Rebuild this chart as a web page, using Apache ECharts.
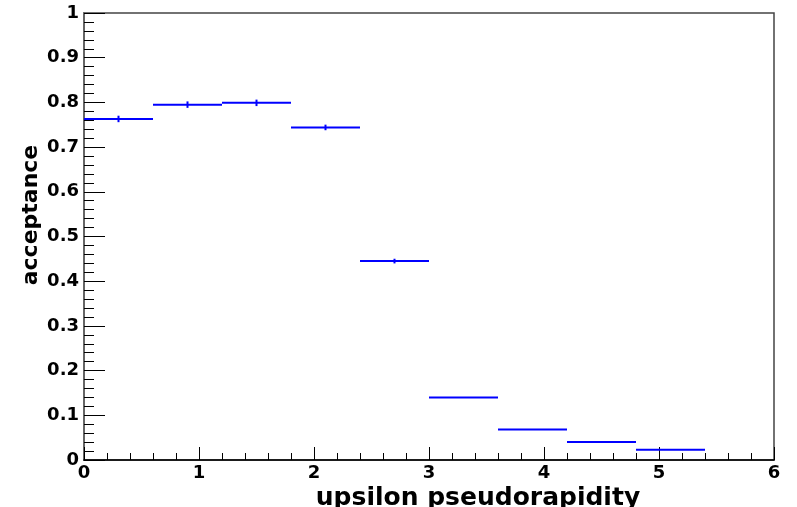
<!DOCTYPE html>
<html lang="en" style="height: 100%">
<head>
    <meta charset="utf-8">
    <title>acceptance vs upsilon pseudorapidity</title>
    <script src="https://cdn.jsdelivr.net/npm/echarts@6/dist/echarts.min.js"></script>
</head>
<body style="height: 100%; margin: 0; background: #fff">
<div id="main" style="width: 797px; height: 507px"></div>
<script type="text/javascript">
    // bin edges and acceptance values
    var binLow = [0, 0.6, 1.2, 1.8, 2.4, 3.0, 3.6, 4.2, 4.8];
    var binHigh = [0.6, 1.2, 1.8, 2.4, 3.0, 3.6, 4.2, 4.8, 5.4];
    var acceptance = [0.763, 0.795, 0.799, 0.744, 0.445, 0.140, 0.068, 0.040, 0.023];
    var acceptanceErr = [0.005, 0.005, 0.005, 0.004, 0.003, 0, 0, 0, 0];
    var xTicks = [0, 1, 2, 3, 4, 5, 6];
    var yTicks = [0, 0.1, 0.2, 0.3, 0.4, 0.5, 0.6, 0.7, 0.8, 0.9, 1];

    var FONT = 'DejaVu Sans';

    var data = [];
    for (var i = 0; i < acceptance.length; i++) {
        data.push([binLow[i], binHigh[i], acceptance[i], acceptanceErr[i]]);
    }

    var chart = echarts.init(document.getElementById('main'));
    var option = {
        animation: false,
        grid: {
            left: 84,
            right: 23,
            top: 13,
            bottom: 47,
            show: true,
            borderColor: '#444',
            borderWidth: 1.5
        },
        xAxis: {
            type: 'value',
            min: xTicks[0],
            max: xTicks[xTicks.length - 1],
            interval: 1,
            axisLine: {lineStyle: {color: '#000', width: 1.5}},
            axisTick: {inside: true, length: 13, lineStyle: {color: '#000'}},
            minorTick: {show: true, splitNumber: 5, length: 7, lineStyle: {color: '#000'}},
            splitLine: {show: false},
            axisLabel: {
                margin: 4,
                fontFamily: FONT,
                fontWeight: 'bold',
                fontSize: 18,
                color: '#000',
                showMinLabel: true,
                showMaxLabel: true
            }
        },
        yAxis: {
            type: 'value',
            min: yTicks[0],
            max: yTicks[yTicks.length - 1],
            interval: 0.1,
            axisLine: {show: true, lineStyle: {color: '#666', width: 2}},
            axisTick: {inside: true, length: 21, lineStyle: {color: '#000'}},
            minorTick: {show: true, splitNumber: 5, length: 10, lineStyle: {color: '#000'}},
            splitLine: {show: false},
            axisLabel: {
                margin: 5,
                fontFamily: FONT,
                fontWeight: 'bold',
                fontSize: 18,
                color: '#000',
                showMinLabel: true,
                showMaxLabel: true
            }
        },
        graphic: [
            {
                type: 'text',
                x: 31,
                y: 215,
                rotation: Math.PI / 2,
                style: {
                    text: 'acceptance',
                    fontFamily: FONT,
                    fontWeight: 'bold',
                    fontSize: 22,
                    fill: '#000',
                    align: 'center',
                    verticalAlign: 'middle'
                }
            },
            {
                type: 'text',
                x: 478,
                y: 498,
                style: {
                    text: 'upsilon pseudorapidity',
                    fontFamily: FONT,
                    fontWeight: 'bold',
                    fontSize: 25,
                    fill: '#000',
                    align: 'center',
                    verticalAlign: 'middle'
                }
            }
        ],
        series: [{
            type: 'custom',
            data: data,
            encode: {x: [0, 1], y: 2},
            renderItem: function (params, api) {
                var lo = api.value(0), hi = api.value(1);
                var v = api.value(2), e = api.value(3);
                var mid = (lo + hi) / 2;
                var p1 = api.coord([lo, v]);
                var p2 = api.coord([hi, v]);
                var top = api.coord([mid, v + e]);
                var bot = api.coord([mid, v - e]);
                var style = {stroke: '#0000ff', lineWidth: 2};
                var children = [{
                    type: 'line',
                    shape: {x1: p1[0], y1: p1[1], x2: p2[0], y2: p2[1]},
                    style: style
                }];
                if (e > 0) {
                    children.push({
                        type: 'line',
                        shape: {x1: top[0], y1: top[1] - 1, x2: bot[0], y2: bot[1] + 1},
                        style: style
                    });
                }
                return {type: 'group', children: children};
            }
        }]
    };
    chart.setOption(option);
</script>
</body>
</html>
